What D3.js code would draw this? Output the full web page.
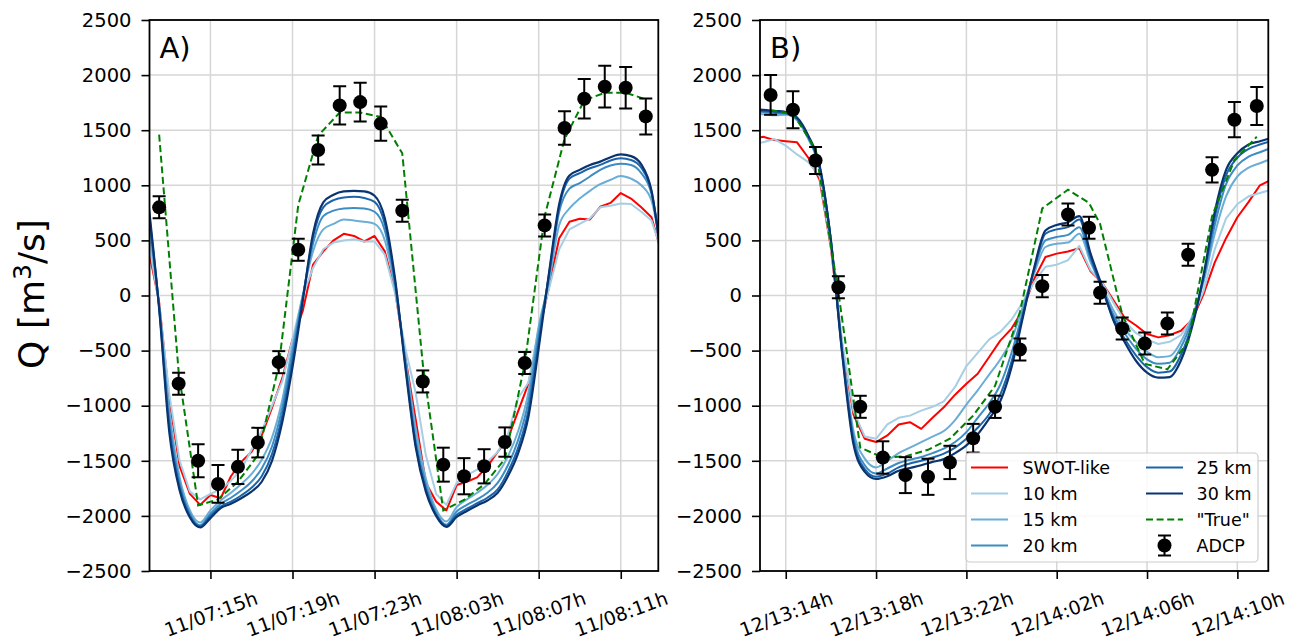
<!DOCTYPE html>
<html>
<head>
<meta charset="utf-8">
<script src="https://cdn.jsdelivr.net/npm/d3@7"></script>
<style>
  html, body { margin: 0; padding: 0; background: #fff; }
  svg { display: block; font-family: "DejaVu Sans", sans-serif; }
</style>
</head>
<body>
<svg id="chart" width="1302" height="644"></svg>
<script>
// ---------------- data ----------------
// discharge axis ticks [m3/s]
const yTicks = [-2500, -2000, -1500, -1000, -500, 0, 500, 1000, 1500, 2000, 2500];

// Campaign A: hours counted from 11/07 00h
const tickHoursA = [15, 19, 23, 27, 31, 35];
const tickLabelsA = ["11/07:15h", "11/07:19h", "11/07:23h", "11/08:03h", "11/08:07h", "11/08:11h"];
const modelHoursA = [12.0, 12.5, 13.0, 13.5, 14.0, 14.5, 15.0, 15.5, 16.0, 16.5, 17.0, 17.5, 18.0, 18.5, 19.0, 19.5,
  20.0, 20.5, 21.0, 21.5, 22.0, 22.5, 23.0, 23.5, 24.0, 24.5, 25.0, 25.5, 26.0, 26.5, 27.0, 27.5, 28.0, 28.5,
  29.0, 29.5, 30.0, 30.5, 31.0, 31.5, 32.0, 32.5, 33.0, 33.5, 34.0, 34.5, 35.0, 35.5, 36.0, 36.5, 37.0];
const swotA = [400, -60, -950, -1550, -1800, -1900, -1810, -1840, -1640, -1510, -1420, -1270, -1020, -750, -400, -140,
  280, 400, 500, 560, 540, 490, 540, 400, 40, -560, -1120, -1700, -1870, -1950, -1720, -1690, -1650, -1550,
  -1420, -1300, -1050, -800, -350, 80, 520, 670, 697, 690, 805, 840, 930, 880, 800, 710, 380];
const km10A = [480, -80, -900, -1500, -1780, -1850, -1800, -1760, -1680, -1580, -1400, -1230, -1000, -780, -400, 0,
  250, 420, 480, 500, 510, 490, 490, 370, 20, -480, -880, -1450, -1800, -1900, -1700, -1630, -1580, -1510,
  -1420, -1260, -930, -790, -300, 60, 420, 600, 650, 700, 800, 815, 835, 830, 760, 680, 400];
const km15A = [600, -90, -1050, -1650, -1950, -2060, -1950, -1860, -1790, -1710, -1620, -1490, -1290, -950, -460, 0,
  400, 600, 650, 690, 680, 670, 650, 500, 60, -560, -1200, -1660, -1940, -2050, -1920, -1850, -1790, -1720,
  -1620, -1460, -1230, -880, -280, 120, 640, 790, 880, 950, 1010, 1050, 1085, 1060, 1000, 860, 350];
const km20A = [700, -100, -1130, -1700, -1980, -2085, -1980, -1890, -1835, -1770, -1690, -1570, -1370, -1020, -520, -10,
  470, 720, 770, 790, 795, 790, 760, 590, 100, -600, -1300, -1720, -1970, -2080, -1960, -1900, -1850, -1790,
  -1700, -1540, -1310, -960, -350, 170, 760, 970, 1020, 1080, 1140, 1180, 1195, 1185, 1110, 920, 340];
const km25A = [760, -110, -1200, -1740, -2000, -2095, -2000, -1915, -1870, -1815, -1745, -1640, -1440, -1090, -590, -30,
  530, 800, 865, 890, 895, 885, 850, 650, 130, -630, -1350, -1760, -1990, -2090, -1990, -1935, -1885, -1835,
  -1760, -1600, -1380, -1040, -420, 190, 800, 1060, 1110, 1155, 1185, 1225, 1245, 1230, 1160, 940, 320];
const km30A = [800, -120, -1250, -1770, -2015, -2105, -2020, -1930, -1890, -1840, -1780, -1690, -1500, -1150, -650, -50,
  560, 845, 915, 945, 950, 945, 905, 700, 150, -650, -1370, -1780, -2000, -2100, -2010, -1955, -1905, -1860,
  -1790, -1640, -1430, -1100, -480, 200, 830, 1090, 1140, 1185, 1215, 1255, 1280, 1265, 1190, 950, 300];
const adcpHoursA = [12.5, 13.45, 14.4, 15.37, 16.34, 17.31, 18.33, 19.28, 20.25, 21.3, 22.3, 23.3, 24.35,
  25.35, 26.35, 27.36, 28.34, 29.35, 30.32, 31.29, 32.26, 33.22, 34.22, 35.24, 36.22];
const adcpA = [800, -800, -1500, -1710, -1555, -1335, -605, 415, 1320, 1725, 1755, 1560, 770,
  -780, -1535, -1640, -1550, -1330, -612, 636, 1520, 1785, 1895, 1885, 1625];
const adcpErrA = [100, 100, 150, 171, 156, 134, 100, 100, 132, 173, 176, 156, 100,
  100, 154, 164, 155, 133, 100, 100, 152, 179, 190, 189, 163];
const trueA = [1460, -690, -1905, -1850, -1690, -1450, -640, 820, 1450, 1660, 1660, 1620, 1290,
  -620, -1950, -1855, -1715, -1485, -620, 720, 1420, 1770, 1840, 1840, 1780];

// Campaign B: hours counted from 12/13 00h
const tickHoursB = [14, 18, 22, 26, 30, 34];
const tickLabelsB = ["12/13:14h", "12/13:18h", "12/13:22h", "12/14:02h", "12/14:06h", "12/14:10h"];
const modelHoursB = [12.5, 13.0, 13.5, 14.0, 14.5, 15.0, 15.5, 16.0, 16.5, 17.0, 17.5, 18.0, 18.5, 19.0, 19.5,
  20.0, 20.5, 21.0, 21.5, 22.0, 22.5, 23.0, 23.5, 24.0, 24.5, 25.0, 25.5, 26.0, 26.5, 27.0, 27.5, 28.0, 28.5,
  29.0, 29.5, 30.0, 30.5, 31.0, 31.5, 32.0, 32.5, 33.0, 33.5, 34.0, 34.5, 35.0, 35.5];
const swotB = [1420, 1440, 1410, 1400, 1390, 1250, 1050, 430, -450, -1080, -1300, -1330, -1270, -1170, -1150,
  -1210, -1110, -1015, -900, -800, -710, -560, -410, -300, -130, 150, 350, 380, 400, 430, 220, 120, -40,
  -200, -270, -350, -380, -360, -320, -220, 10, 300, 520, 710, 850, 1000, 1050];
const km10B = [1380, 1390, 1420, 1360, 1280, 1210, 1080, 440, -420, -1050, -1280, -1300, -1170, -1110, -1090,
  -1045, -1010, -960, -830, -640, -520, -400, -330, -220, -60, 120, 260, 280, 320, 450, 230, 120, -60,
  -230, -340, -400, -440, -420, -360, -210, 40, 420, 700, 830, 900, 930, 960];
const km15B = [1650, 1645, 1635, 1640, 1590, 1420, 1150, 490, -480, -1230, -1480, -1560, -1500, -1430, -1380,
  -1330, -1280, -1230, -1130, -990, -860, -720, -580, -400, -100, 200, 440, 470, 480, 560, 300, 90, -130,
  -300, -420, -510, -560, -550, -420, -190, 120, 560, 900, 1080, 1160, 1200, 1240];
const km20B = [1670, 1665, 1655, 1650, 1600, 1430, 1160, 500, -500, -1280, -1540, -1615, -1570, -1520, -1490,
  -1465, -1430, -1390, -1330, -1240, -1110, -980, -810, -520, -150, 230, 500, 530, 550, 620, 330, 70, -170,
  -340, -480, -580, -620, -610, -470, -220, 150, 640, 1010, 1180, 1260, 1300, 1340];
const km25B = [1680, 1675, 1665, 1655, 1605, 1440, 1170, 500, -520, -1320, -1575, -1645, -1615, -1560, -1525,
  -1500, -1470, -1435, -1380, -1300, -1200, -1080, -900, -600, -180, 240, 560, 600, 620, 690, 350, 60, -200,
  -390, -540, -650, -700, -690, -540, -260, 170, 710, 1090, 1250, 1330, 1370, 1400];
const km30B = [1690, 1685, 1675, 1665, 1615, 1450, 1180, 500, -530, -1350, -1600, -1665, -1640, -1590, -1565,
  -1540, -1510, -1485, -1430, -1360, -1260, -1120, -960, -650, -200, 250, 590, 640, 665, 720, 380, 90, -220,
  -420, -590, -700, -745, -740, -590, -280, 180, 760, 1140, 1290, 1370, 1400, 1430];
const adcpHoursB = [13.33, 14.32, 15.32, 16.33, 17.3, 18.3, 19.3, 20.3, 21.27, 22.3, 23.27, 24.37,
  25.36, 26.5, 27.43, 27.92, 28.9, 29.9, 30.9, 31.82, 32.88, 33.87, 34.86];
const adcpB = [1820, 1685, 1225, 75, -1010, -1470, -1630, -1645, -1515, -1295, -1010, -490,
  85, 735, 615, 25, -300, -435, -255, 370, 1140, 1595, 1720];
const adcpErrB = [180, 168, 122, 100, 100, 147, 163, 164, 151, 130, 101, 100,
  100, 100, 100, 100, 100, 100, 100, 100, 114, 160, 172];
const trueB = [1680, 1650, 1330, 30, -1380, -1470, -1460, -1400, -1300, -1090, -820, -150,
  790, 960, 840, 650, -170, -620, -670, -420, 720, 1230, 1440];

const seriesNames = ["SWOT-like", "10 km", "15 km", "20 km", "25 km", "30 km"];

// ---------------- styling ----------------
const seriesColors = ["#ff0000", "#a6cee4", "#6aaed6", "#3d8dc4", "#1c64aa", "#0a3470"];
const trueColor = "#008000";
const gridColor = "#d6d6d6";

const svg = d3.select("#chart");
const plotTop = 20, plotBottom = 571;
const y = d3.scaleLinear().domain([-2500, 2500]).range([plotBottom, plotTop]);

const panels = [
  { id: "A", label: "A)", left: 149.5, right: 658.3, domain: [12.03, 36.83],
    ticks: tickHoursA, tickLabels: tickLabelsA, hours: modelHoursA,
    series: [swotA, km10A, km15A, km20A, km25A, km30A],
    adcpHours: adcpHoursA, adcp: adcpA, err: adcpErrA, truth: trueA, legend: false },
  { id: "B", label: "B)", left: 760, right: 1268.3, domain: [12.86, 35.37],
    ticks: tickHoursB, tickLabels: tickLabelsB, hours: modelHoursB,
    series: [swotB, km10B, km15B, km20B, km25B, km30B],
    adcpHours: adcpHoursB, adcp: adcpB, err: adcpErrB, truth: trueB, legend: true }
];

const defs = svg.append("defs");
const cap = 6.5;

panels.forEach(p => {
  const x = d3.scaleLinear().domain(p.domain).range([p.left, p.right]);
  const g = svg.append("g").attr("class", "panel-" + p.id);

  defs.append("clipPath").attr("id", "clip-" + p.id)
    .append("rect").attr("x", p.left).attr("y", plotTop)
    .attr("width", p.right - p.left).attr("height", plotBottom - plotTop);

  // grid
  const grid = g.append("g").attr("stroke", gridColor).attr("stroke-width", 1.5);
  grid.selectAll("line.h").data(yTicks).join("line").attr("class", "h")
    .attr("x1", p.left).attr("x2", p.right)
    .attr("y1", d => y(d)).attr("y2", d => y(d));
  grid.selectAll("line.v").data(p.ticks).join("line").attr("class", "v")
    .attr("x1", d => x(d)).attr("x2", d => x(d))
    .attr("y1", plotTop).attr("y2", plotBottom);

  const plot = g.append("g").attr("clip-path", `url(#clip-${p.id})`);

  // model discharge series
  p.series.forEach((vals, i) => {
    const pts = p.hours.map((h, k) => [h, vals[k]]);
    const line = d3.line()
      .x(d => x(d[0])).y(d => y(d[1]))
      .curve(i < 2 ? d3.curveLinear : d3.curveMonotoneX);
    plot.append("path").datum(pts)
      .attr("d", line)
      .attr("fill", "none")
      .attr("stroke", seriesColors[i])
      .attr("stroke-width", i === 5 ? 2.2 : 2)
      .attr("stroke-linejoin", "round");
  });

  // "True" discharge
  const truePts = p.adcpHours.map((h, k) => [h, p.truth[k]]);
  plot.append("path").datum(truePts)
    .attr("d", d3.line().x(d => x(d[0])).y(d => y(d[1])))
    .attr("fill", "none")
    .attr("stroke", trueColor)
    .attr("stroke-width", 2)
    .attr("stroke-dasharray", "7,3.6");

  // ADCP measurements with error bars
  const obs = p.adcpHours.map((h, k) => ({ h, q: p.adcp[k], e: p.err[k] }));
  const eb = plot.append("g").attr("stroke", "#000").attr("stroke-width", 2);
  obs.forEach(o => {
    const cx = x(o.h);
    eb.append("line").attr("x1", cx).attr("x2", cx).attr("y1", y(o.q - o.e)).attr("y2", y(o.q + o.e));
    eb.append("line").attr("x1", cx - cap).attr("x2", cx + cap).attr("y1", y(o.q - o.e)).attr("y2", y(o.q - o.e));
    eb.append("line").attr("x1", cx - cap).attr("x2", cx + cap).attr("y1", y(o.q + o.e)).attr("y2", y(o.q + o.e));
  });
  plot.append("g").selectAll("circle").data(obs).join("circle")
    .attr("cx", d => x(d.h)).attr("cy", d => y(d.q)).attr("r", 7).attr("fill", "#000");

  // axes
  const yAxis = d3.axisLeft(y).tickValues(yTicks).tickSize(8).tickPadding(10).tickFormat(d3.format("d"));
  const ya = g.append("g").attr("transform", `translate(${p.left},0)`).call(yAxis);
  ya.select(".domain").remove();
  ya.selectAll(".tick line").attr("stroke", "#000").attr("stroke-width", 1.6);
  ya.selectAll(".tick text").attr("fill", "#000").style("font-size", "19.5px")
    .style("font-family", "DejaVu Sans");

  const xAxis = d3.axisBottom(x).tickValues(p.ticks).tickSize(8)
    .tickFormat((d, i) => p.tickLabels[i]);
  const xa = g.append("g").attr("transform", `translate(0,${plotBottom})`).call(xAxis);
  xa.select(".domain").remove();
  xa.selectAll(".tick line").attr("stroke", "#000").attr("stroke-width", 1.6);
  xa.selectAll(".tick text")
    .attr("fill", "#000")
    .attr("y", 0).attr("dy", "0.35em")
    .attr("text-anchor", "middle")
    .attr("transform", "translate(0,43) rotate(-20)")
    .style("font-size", "19px").style("font-family", "DejaVu Sans");

  // frame
  g.append("rect").attr("x", p.left).attr("y", plotTop)
    .attr("width", p.right - p.left).attr("height", plotBottom - plotTop)
    .attr("fill", "none").attr("stroke", "#000").attr("stroke-width", 1.8);

  // panel tag
  g.append("text").attr("x", p.left + 10).attr("y", 58)
    .style("font-size", "29px").attr("fill", "#000").text(p.label);

  if (p.legend) {
    const lg = g.append("g");
    lg.append("rect").attr("x", 966).attr("y", 453).attr("width", 292).attr("height", 109)
      .attr("rx", 4).attr("fill", "#fff").attr("fill-opacity", 0.85)
      .attr("stroke", "#cccccc").attr("stroke-width", 1.2);
    const rowY = [467.5, 493.5, 519.5, 545.5];
    const col1 = { lx: 971, tx: 1022.5 }, col2 = { lx: 1146, tx: 1196.5 };
    const items = [
      { col: col1, row: 0, name: seriesNames[0], color: seriesColors[0] },
      { col: col1, row: 1, name: seriesNames[1], color: seriesColors[1] },
      { col: col1, row: 2, name: seriesNames[2], color: seriesColors[2] },
      { col: col1, row: 3, name: seriesNames[3], color: seriesColors[3] },
      { col: col2, row: 0, name: seriesNames[4], color: seriesColors[4] },
      { col: col2, row: 1, name: seriesNames[5], color: seriesColors[5] },
      { col: col2, row: 2, name: "\"True\"", color: trueColor, dash: "7,3.6" },
      { col: col2, row: 3, name: "ADCP", marker: true }
    ];
    items.forEach(it => {
      const yy = rowY[it.row];
      if (it.marker) {
        const cx = it.col.lx + 18.5;
        lg.append("line").attr("x1", cx).attr("x2", cx).attr("y1", yy - 10).attr("y2", yy + 10)
          .attr("stroke", "#000").attr("stroke-width", 2);
        [yy - 10, yy + 10].forEach(cy => lg.append("line").attr("x1", cx - cap).attr("x2", cx + cap)
          .attr("y1", cy).attr("y2", cy).attr("stroke", "#000").attr("stroke-width", 2));
        lg.append("circle").attr("cx", cx).attr("cy", yy).attr("r", 7).attr("fill", "#000");
      } else {
        lg.append("line").attr("x1", it.col.lx).attr("x2", it.col.lx + 37)
          .attr("y1", yy).attr("y2", yy)
          .attr("stroke", it.color).attr("stroke-width", 2.2)
          .attr("stroke-dasharray", it.dash || null);
      }
      lg.append("text").attr("x", it.col.tx).attr("y", yy).attr("dy", "0.35em")
        .style("font-size", "17.5px").attr("fill", "#000").text(it.name);
    });
  }
});

// shared y label
const yl = svg.append("text")
  .attr("transform", "translate(44,294) rotate(-90)")
  .attr("text-anchor", "middle")
  .style("font-size", "36px").attr("fill", "#000");
yl.append("tspan").text("Q [m");
yl.append("tspan").attr("dy", "-13").style("font-size", "25px").text("3");
yl.append("tspan").attr("dy", "13").text("/s]");
</script>
</body>
</html>
